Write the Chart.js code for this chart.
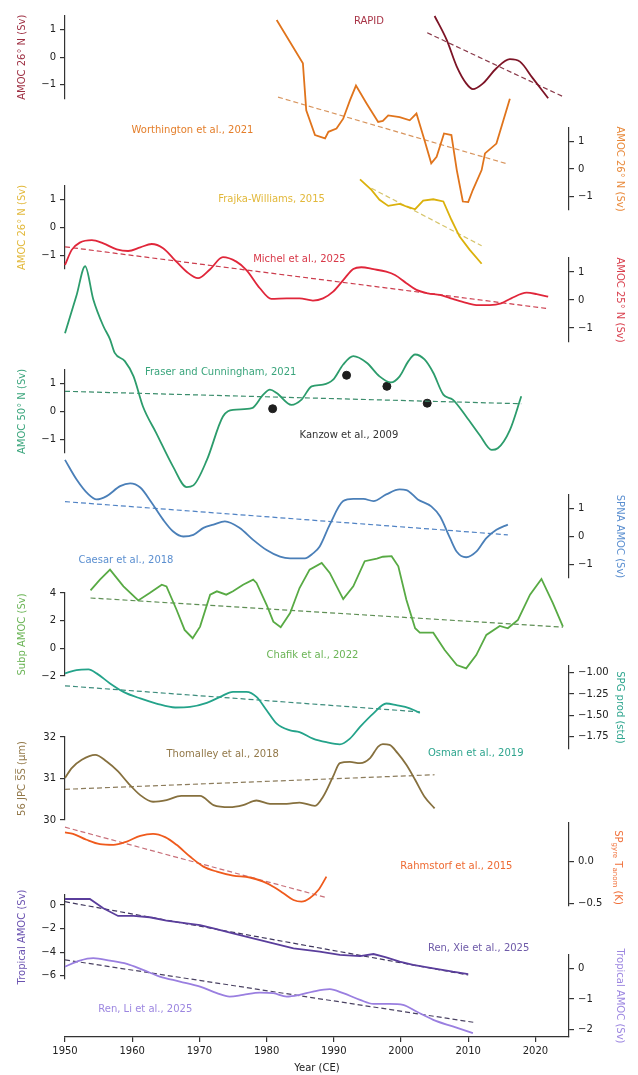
<!DOCTYPE html>
<html>
<head>
<meta charset="utf-8">
<script src="https://cdn.jsdelivr.net/npm/chart.js@4.4.1/dist/chart.umd.min.js"></script>
<style>
    body { margin: 0; background: #fff; }
    #wrap { position: relative; width: 638px; height: 1075px; }
    #wrap canvas { position: absolute; left: 0; top: 0; }
</style>
</head>
<body>
<div id="wrap"></div>
<script>
// ---- data ----
const rapidYears = [2005.0, 2006.8, 2008.3, 2009.7, 2010.7, 2012.2, 2014.2, 2016.2, 2017.7, 2019.6, 2021.9];
const rapidAmoc = [1.50, 0.63, -0.34, -0.95, -1.16, -0.95, -0.40, -0.07, -0.16, -0.76, -1.49];
const rapidTrendYears = [2003.9, 2024.1];
const rapidTrend = [0.89, -1.43];

const worthYears = [1981.5, 1985.4, 1985.9, 1987.2, 1988.7, 1989.2, 1990.4, 1991.4, 1992.4, 1993.3, 1994.9, 1996.6, 1997.3, 1998.1, 1999.8, 2001.3, 2002.3, 2003.5, 2004.5, 2005.3, 2006.4, 2007.5, 2008.3, 2009.2, 2010.0, 2010.7, 2012.0, 2012.5, 2014.2, 2016.2];
const worthAmoc = [5.45, 3.87, 2.15, 1.24, 1.12, 1.36, 1.48, 1.84, 2.51, 3.05, 2.39, 1.72, 1.76, 1.96, 1.90, 1.78, 2.03, 1.05, 0.21, 0.45, 1.30, 1.24, -0.04, -1.19, -1.21, -0.76, -0.04, 0.57, 0.93, 2.57];
const worthTrendYears = [1981.7, 2015.9];
const worthTrend = [2.63, 0.18];

const frajkaYears = [1993.9, 1995.6, 1996.8, 1998.1, 1999.8, 2000.8, 2002.1, 2003.3, 2004.8, 2006.3, 2007.5, 2008.7, 2010.2, 2012.0];
const frajkaAmoc = [1.74, 1.36, 1.00, 0.78, 0.85, 0.76, 0.66, 0.97, 1.02, 0.94, 0.28, -0.32, -0.80, -1.31];
const frajkaTrendYears = [1995.6, 2012.0];
const frajkaTrend = [1.42, -0.66];

const michelYears = [1950, 1951.0, 1952.2, 1954.0, 1955.7, 1957.7, 1959.4, 1961.2, 1962.9, 1964.6, 1966.1, 1968.1, 1969.8, 1971.6, 1973.5, 1975.5, 1977.0, 1979.0, 1980.7, 1983.0, 1984.9, 1986.9, 1988.4, 1989.9, 1991.4, 1992.9, 1994.1, 1995.9, 1997.8, 1999.1, 2000.8, 2002.3, 2004.0, 2005.8, 2007.7, 2009.7, 2011.2, 2013.2, 2014.9, 2016.4, 2018.7, 2020.2, 2021.9];
const michelAmoc = [1.25, 1.79, 2.05, 2.14, 2.02, 1.81, 1.75, 1.88, 2.00, 1.85, 1.49, 1.01, 0.78, 1.10, 1.53, 1.37, 1.07, 0.42, 0.04, 0.06, 0.06, -0.02, 0.06, 0.30, 0.71, 1.11, 1.17, 1.10, 1.01, 0.89, 0.60, 0.36, 0.24, 0.18, 0.04, -0.10, -0.18, -0.18, -0.12, 0.06, 0.26, 0.21, 0.12];
const michelTrendYears = [1950, 2021.6];
const michelTrend = [1.90, -0.30];

const fraserYears = [1950, 1951.7, 1953.0, 1954.2, 1955.7, 1956.7, 1957.4, 1958.9, 1960.2, 1961.6, 1963.6, 1966.1, 1968.1, 1969.1, 1971.1, 1973.5, 1975.0, 1977.8, 1979.5, 1980.5, 1981.5, 1983.7, 1985.2, 1986.7, 1988.4, 1989.9, 1991.4, 1992.9, 1994.9, 1996.8, 1998.5, 1999.8, 2001.1, 2002.1, 2003.5, 2004.8, 2006.3, 2007.7, 2009.7, 2011.7, 2013.5, 2014.4, 2016.2, 2017.9];
const fraserAmoc = [2.83, 4.18, 5.25, 4.06, 3.09, 2.61, 2.12, 1.82, 1.27, 0.18, -0.79, -2.00, -2.73, -2.67, -1.76, -0.18, 0.06, 0.12, 0.61, 0.79, 0.67, 0.24, 0.43, 0.91, 0.97, 1.15, 1.70, 2.00, 1.76, 1.27, 1.05, 1.27, 1.82, 2.06, 1.88, 1.40, 0.61, 0.43, -0.18, -0.85, -1.39, -1.33, -0.67, 0.55];
const fraserTrendYears = [1950, 2017.9];
const fraserTrend = [0.73, 0.28];

const kanzowYears = [1956.9, 1980.9, 1991.9, 1997.9, 2003.9];
const kanzowAmoc = [2.91, 0.10, 1.31, 0.91, 0.30];

const caesarYears = [1950, 1951.7, 1953.5, 1954.7, 1956.2, 1958.2, 1959.7, 1961.2, 1962.9, 1964.6, 1966.1, 1967.6, 1969.1, 1970.6, 1972.1, 1973.8, 1976.0, 1978.0, 1980.0, 1982.0, 1983.5, 1985.7, 1986.9, 1987.9, 1989.4, 1991.4, 1992.9, 1994.4, 1995.9, 1997.8, 1999.8, 2000.8, 2002.5, 2004.5, 2005.8, 2007.3, 2008.3, 2009.7, 2011.2, 2012.7, 2014.2, 2015.9];
const caesarAmoc = [2.77, 2.07, 1.52, 1.34, 1.46, 1.82, 1.92, 1.77, 1.22, 0.61, 0.18, 0.00, 0.06, 0.31, 0.43, 0.55, 0.31, -0.12, -0.49, -0.73, -0.79, -0.79, -0.61, -0.36, 0.43, 1.28, 1.36, 1.36, 1.28, 1.52, 1.70, 1.68, 1.34, 1.09, 0.73, -0.06, -0.55, -0.75, -0.55, -0.06, 0.24, 0.43];
const caesarTrendYears = [1950, 2015.9];
const caesarTrend = [1.26, 0.06];

const chafikYears = [1953.8, 1955.2, 1956.7, 1958.7, 1960.9, 1962.6, 1964.4, 1965.1, 1966.6, 1967.8, 1969.0, 1970.1, 1971.6, 1972.6, 1974.0, 1975.0, 1976.5, 1978.0, 1978.5, 1980.0, 1981.0, 1982.1, 1983.5, 1984.9, 1986.4, 1988.2, 1989.4, 1991.4, 1992.9, 1994.6, 1996.4, 1997.3, 1998.6, 1999.6, 2000.8, 2002.1, 2002.8, 2004.8, 2006.5, 2008.3, 2009.7, 2011.2, 2012.7, 2014.7, 2015.9, 2017.4, 2019.2, 2020.9, 2022.6, 2024.1];
const chafikAmoc = [4.19, 4.97, 5.69, 4.48, 3.46, 4.00, 4.60, 4.48, 2.79, 1.33, 0.73, 1.57, 3.88, 4.12, 3.88, 4.12, 4.60, 4.97, 4.73, 3.15, 1.93, 1.53, 2.55, 4.36, 5.69, 6.18, 5.45, 3.56, 4.48, 6.30, 6.49, 6.62, 6.66, 5.93, 3.51, 1.45, 1.13, 1.13, -0.12, -1.21, -1.45, -0.49, 0.97, 1.62, 1.45, 2.06, 3.88, 5.02, 3.27, 1.57];
const chafikTrendYears = [1953.8, 2024.1];
const chafikTrend = [3.64, 1.53];

const osmanYears = [1950, 1951.7, 1953.5, 1954.7, 1956.7, 1958.7, 1961.2, 1963.6, 1966.4, 1968.6, 1971.1, 1973.1, 1975.0, 1977.0, 1978.5, 1980.0, 1981.5, 1983.5, 1984.9, 1986.9, 1988.9, 1990.9, 1992.4, 1993.9, 1995.9, 1997.8, 1999.3, 2001.3, 2002.8];
const osmanProd = [-1.007, -0.968, -0.96, -1.007, -1.126, -1.225, -1.303, -1.363, -1.41, -1.403, -1.355, -1.284, -1.225, -1.225, -1.284, -1.442, -1.60, -1.68, -1.70, -1.777, -1.82, -1.845, -1.777, -1.64, -1.48, -1.363, -1.383, -1.42, -1.474];
const osmanTrendYears = [1950, 2002.8];
const osmanTrend = [-1.154, -1.462];

const thomYears = [1950, 1951.0, 1952.5, 1954.5, 1956.2, 1957.9, 1959.4, 1961.2, 1963.1, 1965.1, 1967.3, 1970.1, 1972.1, 1974.5, 1976.5, 1978.5, 1980.5, 1983.0, 1984.9, 1987.2, 1988.4, 1989.9, 1990.9, 1992.4, 1993.9, 1995.4, 1996.6, 1997.3, 1998.3, 1999.5, 2000.8, 2002.1, 2003.5, 2005.0];
const thomSS = [31.01, 31.25, 31.45, 31.57, 31.41, 31.17, 30.89, 30.60, 30.44, 30.48, 30.58, 30.58, 30.36, 30.31, 30.36, 30.47, 30.39, 30.39, 30.42, 30.34, 30.56, 31.05, 31.37, 31.40, 31.37, 31.49, 31.77, 31.83, 31.81, 31.61, 31.33, 30.97, 30.56, 30.28];
const thomTrendYears = [1950, 2005.0];
const thomTrend = [30.74, 31.09];

const rahmYears = [1950, 1951.2, 1953.2, 1955.2, 1957.2, 1959.2, 1961.2, 1963.1, 1964.9, 1966.6, 1968.6, 1970.6, 1972.6, 1975.0, 1977.5, 1979.5, 1981.0, 1982.5, 1984.0, 1985.2, 1986.4, 1987.7, 1988.9];
const rahmTemp = [0.347, 0.331, 0.26, 0.208, 0.20, 0.239, 0.307, 0.331, 0.292, 0.20, 0.06, -0.06, -0.12, -0.167, -0.19, -0.24, -0.30, -0.378, -0.458, -0.478, -0.438, -0.34, -0.18];
const rahmTrendYears = [1950, 1988.9];
const rahmTrend = [0.41, -0.43];

const renXieYears = [1950, 1951.7, 1953.7, 1955.7, 1957.9, 1960.2, 1962.6, 1965.1, 1968.1, 1970.1, 1972.1, 1975.0, 1978.0, 1981.0, 1984.0, 1987.9, 1990.9, 1993.9, 1995.9, 1997.8, 1999.8, 2001.8, 2004.8, 2007.7, 2010.0];
const renXieAmoc = [0.51, 0.51, 0.51, -0.28, -0.93, -0.93, -1.04, -1.33, -1.55, -1.70, -1.98, -2.40, -2.83, -3.25, -3.68, -3.96, -4.24, -4.33, -4.16, -4.44, -4.81, -5.09, -5.37, -5.66, -5.86];
const renXieTrendYears = [1950, 2010.0];
const renXieTrend = [0.28, -5.94];

const renLiYears = [1950, 1952.2, 1954.2, 1956.7, 1959.2, 1961.6, 1964.1, 1967.1, 1970.1, 1972.6, 1974.5, 1976.5, 1979.0, 1981.0, 1983.0, 1984.9, 1986.9, 1989.4, 1991.4, 1993.9, 1995.9, 1998.3, 2000.3, 2002.3, 2004.8, 2007.7, 2010.7];
const renLiAmoc = [0.076, 0.275, 0.355, 0.275, 0.166, -0.033, -0.255, -0.42, -0.587, -0.806, -0.919, -0.862, -0.786, -0.806, -0.919, -0.862, -0.753, -0.673, -0.806, -1.028, -1.161, -1.161, -1.194, -1.416, -1.69, -1.91, -2.13];
const renLiTrendYears = [1950, 2011.0];
const renLiTrend = [0.30, -1.78];

const yearTicks = [1950, 1960, 1970, 1980, 1990, 2000, 2010, 2020];

// ---- layout ----
const W = 638, H = 1075;
const X0 = 65, X1 = 569;
const FONT = "'DejaVu Sans', sans-serif";

Chart.defaults.font.family = FONT;
Chart.defaults.font.size = 10;
Chart.defaults.color = '#222';
Chart.defaults.animation = false;

const pts = (xs, ys) => xs.map((x, i) => ({ x: x, y: ys[i] }));
const minus = s => String(s).replace('-', '\u2212');

function line(xs, ys, color, smooth) {
    return {
        data: pts(xs, ys), borderColor: color, borderWidth: 1.8, pointRadius: 0,
        fill: false, clip: false,
        cubicInterpolationMode: smooth ? 'monotone' : 'default', tension: 0
    };
}

function trend(xs, ys, color) {
    return {
        data: pts(xs, ys), borderColor: color, borderWidth: 1.2, borderDash: [5, 3],
        pointRadius: 0, fill: false, clip: false, tension: 0
    };
}

function drawSpTitle(ctx, cx, cy, color) {
    const parts = [['SP', 10, 0], ['gyre', 7, 3], [' T', 10, 0], ['anom', 7, 3], [' (K)', 10, 0]];
    ctx.save();
    ctx.translate(cx, cy);
    ctx.rotate(Math.PI / 2);
    ctx.fillStyle = color;
    ctx.textBaseline = 'middle';
    ctx.textAlign = 'left';
    let total = 0;
    parts.forEach(p => { ctx.font = p[1] + 'px ' + FONT; total += ctx.measureText(p[0]).width; });
    let x = -total / 2;
    parts.forEach(p => {
        ctx.font = p[1] + 'px ' + FONT;
        ctx.fillText(p[0], x, p[2]);
        x += ctx.measureText(p[0]).width;
    });
    ctx.restore();
}

const wrap = document.getElementById('wrap');

function makePanel(p, idx) {
    const canvas = document.createElement('canvas');
    canvas.width = W;
    canvas.height = H;
    wrap.appendChild(canvas);
    const left = p.side === 'left';

    const xScale = {
        type: 'linear', min: 1950, max: 2025, display: !!p.showX,
        afterBuildTicks: s => { s.ticks = yearTicks.map(v => ({ value: v })); },
        ticks: { callback: v => String(v), padding: 3, color: '#222', maxRotation: 0 },
        grid: { drawOnChartArea: false, tickLength: 5, color: '#333', lineWidth: 1.2 },
        border: { color: '#333', width: 1.2 },
        title: { display: true, text: 'Year (CE)', color: '#222', padding: { top: 0, bottom: 1 } }
    };
    if (p.showX) xScale.afterFit = s => { s.height = H - p.bottom; };

    const yScale = {
        position: p.side, min: p.min, max: p.max,
        afterFit: s => { s.width = left ? X0 : W - X1; },
        afterBuildTicks: s => { s.ticks = p.ticks.map(v => ({ value: v })); },
        ticks: { callback: v => minus(p.digits ? v.toFixed(p.digits) : v), padding: 4, color: '#222' },
        grid: { drawOnChartArea: false, tickLength: 5, color: '#333', lineWidth: 1.2 },
        border: { color: '#333', width: 1.2 },
        title: {
            display: !!p.title, text: p.title, color: p.titleColor,
            padding: left ? { top: 16, bottom: 0 } : { top: 12, bottom: 0 }
        }
    };

    new Chart(canvas, {
        type: 'line',
        data: { datasets: p.datasets },
        options: {
            responsive: false,
            animation: false,
            events: [],
            layout: {
                padding: {
                    top: p.top,
                    bottom: p.showX ? 0 : H - p.bottom,
                    left: left ? 0 : X0,
                    right: left ? W - X1 : 0
                }
            },
            plugins: { legend: { display: false }, tooltip: { enabled: false } },
            scales: { x: xScale, y: yScale }
        },
        plugins: [{
            id: 'tags' + idx,
            afterDatasetsDraw(chart) {
                const { ctx, scales: { x, y } } = chart;
                ctx.save();
                ctx.font = '10px ' + FONT;
                ctx.textBaseline = 'middle';
                ctx.textAlign = 'left';
                (p.tags || []).forEach(t => {
                    ctx.fillStyle = t.color;
                    ctx.fillText(t.text, x.getPixelForValue(t.year), y.getPixelForValue(t.value));
                });
                ctx.restore();
                if (p.spTitle) drawSpTitle(ctx, W - 20, (p.top + p.bottom) / 2 + 3, p.titleColor);
            }
        }]
    });
}

const panels = [
    {   // RAPID
        side: 'left', top: 16, bottom: 98.5, min: -1.5, max: 1.5, ticks: [-1, 0, 1],
        title: 'AMOC 26\u00b0 N (Sv)', titleColor: '#9e2f42',
        datasets: [line(rapidYears, rapidAmoc, '#7d1426', true), trend(rapidTrendYears, rapidTrend, '#8a3a4a')],
        tags: [{ text: 'RAPID', year: 1993.0, value: 1.29, color: '#a83446' }]
    },
    {   // Worthington
        side: 'right', top: 128, bottom: 210, min: -1.5, max: 1.5, ticks: [-1, 0, 1],
        title: 'AMOC 26\u00b0 N (Sv)', titleColor: '#e8893a',
        datasets: [line(worthYears, worthAmoc, '#e0741c', false), trend(worthTrendYears, worthTrend, '#d8955e')],
        tags: [{ text: 'Worthington et al., 2021', year: 1959.9, value: 1.42, color: '#e47e2a' }]
    },
    {   // Frajka-Williams
        side: 'left', top: 186, bottom: 269, min: -1.5, max: 1.5, ticks: [-1, 0, 1],
        title: 'AMOC 26\u00b0 N (Sv)', titleColor: '#e2b83a',
        datasets: [line(frajkaYears, frajkaAmoc, '#dbb10c', false), trend(frajkaTrendYears, frajkaTrend, '#d6c46a')],
        tags: [{ text: 'Frajka-Williams, 2015', year: 1972.8, value: 1.02, color: '#e2b83a' }]
    },
    {   // Michel
        side: 'right', top: 258, bottom: 342, min: -1.5, max: 1.5, ticks: [-1, 0, 1],
        title: 'AMOC 25\u00b0 N (Sv)', titleColor: '#d9404e',
        datasets: [line(michelYears, michelAmoc, '#e0263a', true), trend(michelTrendYears, michelTrend, '#cc3e4e')],
        tags: [{ text: 'Michel et al., 2025', year: 1978.0, value: 1.45, color: '#d83848' }]
    },
    {   // Fraser and Cunningham + Kanzow
        side: 'left', top: 370, bottom: 453, min: -1.5, max: 1.5, ticks: [-1, 0, 1],
        title: 'AMOC 50\u00b0 N (Sv)', titleColor: '#3aa57c',
        datasets: [
            line(fraserYears, fraserAmoc, '#2c9c6c', true),
            trend(fraserTrendYears, fraserTrend, '#3b8d6c'),
            { type: 'scatter', data: pts(kanzowYears, kanzowAmoc), backgroundColor: '#1e1e1e', borderColor: '#1e1e1e', pointRadius: 4, showLine: false, clip: false }
        ],
        tags: [
            { text: 'Fraser and Cunningham, 2021', year: 1961.9, value: 1.40, color: '#3aa57c' },
            { text: 'Kanzow et al., 2009', year: 1984.9, value: -0.88, color: '#333333' }
        ]
    },
    {   // Caesar SPNA
        side: 'right', top: 495, bottom: 578, min: -1.5, max: 1.5, ticks: [-1, 0, 1],
        title: 'SPNA AMOC (Sv)', titleColor: '#5b8fd0',
        datasets: [line(caesarYears, caesarAmoc, '#4a7fb8', true), trend(caesarTrendYears, caesarTrend, '#4f82c4')],
        tags: [{ text: 'Caesar et al., 2018', year: 1952.0, value: -0.85, color: '#5b8fd0' }]
    },
    {   // Chafik
        side: 'left', top: 593, bottom: 676, min: -2, max: 4, ticks: [-2, 0, 2, 4],
        title: 'Subp AMOC (Sv)', titleColor: '#6ab455',
        datasets: [line(chafikYears, chafikAmoc, '#58aa44', false), trend(chafikTrendYears, chafikTrend, '#5f8f55')],
        tags: [{ text: 'Chafik et al., 2022', year: 1980.0, value: -0.49, color: '#6ab455' }]
    },
    {   // Osman SPG productivity
        side: 'right', top: 666, bottom: 749, min: -1.9, max: -0.92, ticks: [-1.75, -1.5, -1.25, -1.0], digits: 2,
        title: 'SPG prod (std)', titleColor: '#2ea58e',
        datasets: [line(osmanYears, osmanProd, '#24a38a', true), trend(osmanTrendYears, osmanTrend, '#3c8c7c')],
        tags: [{ text: 'Osman et al., 2019', year: 2004.0, value: -1.955, color: '#2ea58e' }]
    },
    {   // Thomalley
        side: 'left', top: 737, bottom: 820, min: 30, max: 32, ticks: [30, 31, 32],
        title: '56 JPC S\u0305S\u0305 (\u03bcm)', titleColor: '#93794a',
        datasets: [line(thomYears, thomSS, '#86703e', true), trend(thomTrendYears, thomTrend, '#8c7c5c')],
        tags: [{ text: 'Thomalley et al., 2018', year: 1965.1, value: 31.59, color: '#93794a' }]
    },
    {   // Rahmstorf
        side: 'right', top: 823, bottom: 906, min: -0.53, max: 0.46, ticks: [-0.5, 0], digits: 1,
        title: '', titleColor: '#f0703a', spTitle: true,
        datasets: [line(rahmYears, rahmTemp, '#ef5a1c', true), trend(rahmTrendYears, rahmTrend, '#c8707a')],
        tags: [{ text: 'Rahmstorf et al., 2015', year: 1999.9, value: -0.06, color: '#ee6a32' }]
    },
    {   // Ren, Xie
        side: 'left', top: 895, bottom: 979, min: -6.28, max: 0.85, ticks: [-6, -4, -2, 0],
        title: 'Tropical AMOC (Sv)', titleColor: '#6a52b0',
        datasets: [line(renXieYears, renXieAmoc, '#5a3e9c', false), trend(renXieTrendYears, renXieTrend, '#40385e')],
        tags: [{ text: 'Ren, Xie et al., 2025', year: 2004.0, value: -3.68, color: '#6e5aa8' }]
    },
    {   // Ren, Li (carries the year axis)
        side: 'right', top: 955, bottom: 1037, min: -2.26, max: 0.46, ticks: [-2, -1, 0], showX: true,
        title: 'Tropical AMOC (Sv)', titleColor: '#9c86e0',
        datasets: [line(renLiYears, renLiAmoc, '#9a7fe0', true), trend(renLiTrendYears, renLiTrend, '#4a4262')],
        tags: [{ text: 'Ren, Li et al., 2025', year: 1954.95, value: -1.34, color: '#9c86e0' }]
    }
];

panels.forEach(makePanel);
</script>
</body>
</html>
